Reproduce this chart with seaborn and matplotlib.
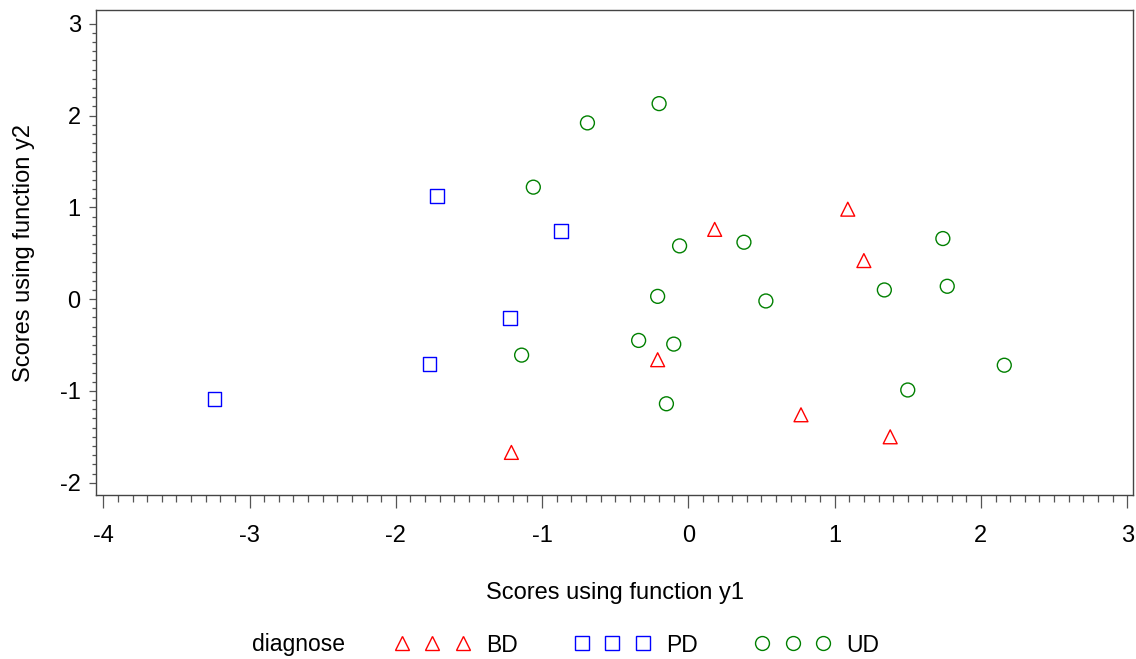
import numpy as np
import pandas as pd
import matplotlib
matplotlib.use("Agg")
import matplotlib.pyplot as plt
from matplotlib.lines import Line2D
from matplotlib.ticker import FixedLocator
import seaborn as sns

# Discriminant scores per diagnosis group
bd_y1 = [0.18, 1.09, 1.20, -0.21, 0.77, 1.38, -1.21]
bd_y2 = [0.76, 0.98, 0.42, -0.66, -1.26, -1.50, -1.67]

pd_y1 = [-1.72, -0.87, -1.22, -1.77, -3.24]
pd_y2 = [1.12, 0.74, -0.21, -0.71, -1.09]

ud_y1 = [-0.20, -0.69, -1.06, -0.06, 0.38, -0.21, 0.53, -0.34, -0.10, -1.14,
         -0.15, 1.74, 1.34, 1.77, 2.16, 1.50]
ud_y2 = [2.13, 1.92, 1.22, 0.58, 0.62, 0.03, -0.02, -0.45, -0.49, -0.61,
         -1.14, 0.66, 0.10, 0.14, -0.72, -0.99]

groups = ["BD", "PD", "UD"]
colors = {"BD": "#ff0000", "PD": "#0000ff", "UD": "#008000"}
markers = {"BD": "^", "PD": "s", "UD": "o"}

df = pd.concat([
    pd.DataFrame({"y1": bd_y1, "y2": bd_y2, "diagnose": "BD"}),
    pd.DataFrame({"y1": pd_y1, "y2": pd_y2, "diagnose": "PD"}),
    pd.DataFrame({"y1": ud_y1, "y2": ud_y2, "diagnose": "UD"}),
], ignore_index=True)

sns.set_theme(style="white")
plt.rcParams["font.family"] = ["Liberation Sans", "DejaVu Sans"]
plt.rcParams["axes.unicode_minus"] = False
plt.rcParams["text.color"] = "black"
plt.rcParams["axes.labelcolor"] = "black"
plt.rcParams["xtick.color"] = "black"
plt.rcParams["ytick.color"] = "black"

fig = plt.figure(figsize=(11.36, 6.59), dpi=100)
ax = fig.add_axes([96 / 1136, 1 - 495 / 659, (1133 - 96) / 1136, (495 - 10) / 659])

# Hollow markers, one call per diagnosis group
for g in groups:
    sub = df[df["diagnose"] == g]
    sns.scatterplot(data=sub, x="y1", y="y2", ax=ax, marker=markers[g],
                    facecolor="none", edgecolor=colors[g], s=100, linewidth=1.0,
                    legend=False)

ax.set_xlim(-4.05, 3.04)
ax.set_ylim(-2.134, 3.15)
ax.xaxis.set_major_locator(FixedLocator(np.arange(-4, 4)))
ax.yaxis.set_major_locator(FixedLocator(np.arange(-2, 4)))
ax.xaxis.set_minor_locator(FixedLocator(np.round(np.arange(-4, 3.001, 0.1), 2)))
ax.yaxis.set_minor_locator(FixedLocator(np.round(np.arange(-2, 3.001, 0.1), 2)))

tick_col = "#555555"
ax.tick_params(axis="x", which="major", direction="out", length=9.5, width=0.9,
               color=tick_col, labelcolor="black", labelsize=17, pad=12, bottom=True)
ax.tick_params(axis="x", which="minor", direction="out", length=5, width=0.9,
               color=tick_col, bottom=True)
ax.tick_params(axis="y", which="major", direction="out", length=5, width=0.9,
               color=tick_col, labelcolor="black", labelsize=17, pad=6, left=True)
ax.tick_params(axis="y", which="minor", direction="out", length=3, width=0.9,
               color=tick_col, left=True)
for sp in ax.spines.values():
    sp.set_color("#444444")
    sp.set_linewidth(1.0)

ax.set_xlabel("Scores using function y1", fontsize=17, labelpad=25)
ax.set_ylabel("Scores using function y2", fontsize=17, labelpad=18)

# Legend row along the bottom
fig.text(252 / 1136, 1 - 645 / 659, "diagnose", fontsize=16.5, va="center", ha="left")
handles = [Line2D([], [], linestyle="none", marker=markers[g], markersize=10,
                  markerfacecolor="none", markeredgecolor=colors[g],
                  markeredgewidth=1.0) for g in groups]
fig.legend(handles, groups, loc="center left", bbox_to_anchor=(395 / 1136, 1 - 645 / 659),
           ncol=3, numpoints=3, frameon=False, fontsize=16.5, handlelength=3.27,
           handletextpad=0.7, columnspacing=2.5, borderpad=0, borderaxespad=0)

fig.savefig("out.png", dpi=100)
